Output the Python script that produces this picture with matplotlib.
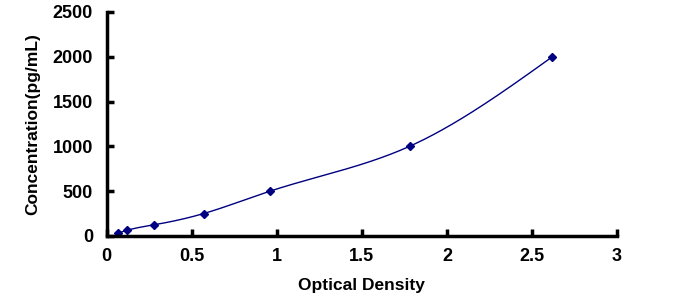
import numpy as np
import matplotlib
matplotlib.use('Agg')
import matplotlib.pyplot as plt

# standard curve data
od = [0.065, 0.118, 0.28, 0.57, 0.96, 1.78, 2.62]
conc = [31.25, 62.5, 125, 250, 500, 1000, 2000]
xticks = [0, 0.5, 1, 1.5, 2, 2.5, 3]
yticks = [0, 500, 1000, 1500, 2000, 2500]


def natural_spline(x, y, n=300):
    x = np.asarray(x, float)
    y = np.asarray(y, float)
    k = len(x)
    h = np.diff(x)
    A = np.zeros((k, k))
    b = np.zeros(k)
    A[0, 0] = A[-1, -1] = 1
    for i in range(1, k - 1):
        A[i, i - 1] = h[i - 1]
        A[i, i] = 2 * (h[i - 1] + h[i])
        A[i, i + 1] = h[i]
        b[i] = 3 * ((y[i + 1] - y[i]) / h[i] - (y[i] - y[i - 1]) / h[i - 1])
    c = np.linalg.solve(A, b)
    xs = np.linspace(x[0], x[-1], n)
    ys = np.empty_like(xs)
    for j, xv in enumerate(xs):
        i = min(np.searchsorted(x, xv, side='right') - 1, k - 2)
        d = xv - x[i]
        bi = (y[i + 1] - y[i]) / h[i] - h[i] * (2 * c[i] + c[i + 1]) / 3
        di = (c[i + 1] - c[i]) / (3 * h[i])
        ys[j] = y[i] + bi * d + c[i] * d ** 2 + di * d ** 3
    return xs, ys


plt.rcParams['font.family'] = ['Liberation Sans', 'DejaVu Sans']
plt.rcParams['font.weight'] = 'bold'

fig = plt.figure(figsize=(6.98, 3.06), dpi=100)
ax = fig.add_axes([0.153, 0.229, 0.731, 0.732])

xs, ys = natural_spline(od, conc)
ax.plot(xs, ys, color='#000080', linewidth=1.0)
ax.plot(od, conc, linestyle='none', marker='D', markersize=4.5, color='#000080')

ax.set_xlim(0, 3)
ax.set_ylim(0, 2500)
ax.set_xticks(xticks)
ax.set_xticklabels([f'{v:g}' for v in xticks])
ax.set_yticks(yticks)
ax.tick_params(direction='in', length=5, width=2.5, labelsize=13)
ax.tick_params(axis='x', pad=9)
ax.tick_params(axis='y', pad=10)
for s in ['top', 'right']:
    ax.spines[s].set_visible(False)
for s in ['left', 'bottom']:
    ax.spines[s].set_linewidth(2.5)

ax.set_xlabel('Optical Density', fontsize=12.5, fontweight='bold', labelpad=9)
ax.set_ylabel('Concentration(pg/mL)', fontsize=12.5, fontweight='bold', labelpad=9)

plt.savefig('out.png', dpi=100)
